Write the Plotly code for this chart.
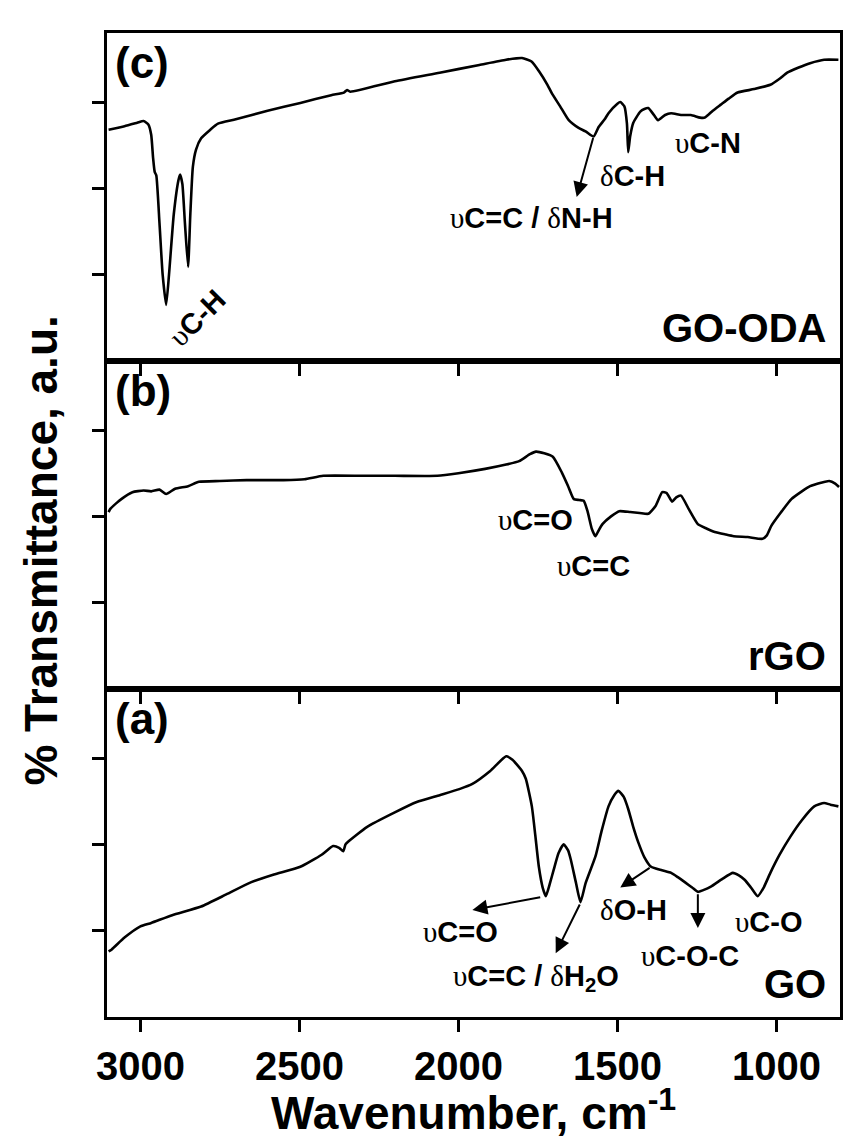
import plotly.graph_objects as go
from plotly.subplots import make_subplots

# ---------------- data ----------------
# (c) GO-ODA
wn_c = [3100, 3050, 3010, 2990, 2975, 2966, 2960, 2955, 2950, 2940, 2930, 2919, 2910, 2895,
        2880, 2875, 2868, 2860, 2850, 2843, 2835, 2825, 2809, 2780, 2756, 2700, 2600, 2497,
        2400, 2360, 2350, 2340, 2200, 2059, 1934, 1850, 1800, 1770, 1747, 1720, 1706, 1680,
        1653, 1622, 1600, 1575, 1559, 1540, 1528, 1500, 1491, 1478, 1470, 1466, 1460, 1450,
        1428, 1415, 1403, 1385, 1372, 1350, 1331, 1300, 1269, 1240, 1225, 1200, 1175, 1150,
        1122, 1070, 1019, 990, 966, 930, 894, 850, 805]
t_c = [2.68, 2.72, 2.76, 2.78, 2.74, 2.62, 2.35, 2.19, 2.15, 1.60, 1.00, 0.65, 1.00, 1.70,
       2.10, 2.16, 2.05, 1.60, 1.09, 1.70, 2.25, 2.45, 2.58, 2.68, 2.75, 2.80, 2.90, 2.99,
       3.08, 3.11, 3.14, 3.12, 3.24, 3.34, 3.43, 3.49, 3.51, 3.47, 3.36, 3.20, 3.10, 2.95,
       2.79, 2.70, 2.66, 2.60, 2.71, 2.80, 2.87, 2.98, 3.00, 2.95, 2.75, 2.42, 2.60, 2.76,
       2.89, 2.92, 2.93, 2.85, 2.79, 2.85, 2.87, 2.85, 2.85, 2.82, 2.82, 2.90, 2.97, 3.04,
       3.11, 3.15, 3.20, 3.27, 3.34, 3.40, 3.45, 3.49, 3.49]

# (b) rGO
wn_b = [3100, 3094, 3060, 3025, 2990, 2966, 2940, 2919, 2891, 2850, 2816, 2750, 2666, 2550,
        2484, 2425, 2300, 2200, 2066, 2000, 1916, 1850, 1809, 1775, 1756, 1730, 1703, 1675,
        1655, 1637, 1620, 1606, 1594, 1580, 1569, 1560, 1547, 1520, 1494, 1460, 1430, 1403,
        1380, 1359, 1345, 1328, 1315, 1300, 1275, 1247, 1220, 1194, 1160, 1134, 1090, 1044,
        1030, 1016, 985, 953, 920, 894, 860, 834, 815, 803]
t_b = [2.05, 2.09, 2.20, 2.28, 2.30, 2.29, 2.31, 2.26, 2.32, 2.35, 2.40, 2.41, 2.42, 2.42,
       2.43, 2.47, 2.47, 2.47, 2.47, 2.50, 2.55, 2.60, 2.64, 2.72, 2.75, 2.73, 2.69, 2.51,
       2.35, 2.20, 2.19, 2.18, 2.06, 1.85, 1.77, 1.83, 1.91, 2.00, 2.06, 2.05, 2.04, 2.03,
       2.12, 2.28, 2.27, 2.17, 2.22, 2.24, 2.08, 1.91, 1.86, 1.82, 1.79, 1.77, 1.76, 1.74,
       1.78, 1.89, 2.05, 2.20, 2.29, 2.35, 2.39, 2.41, 2.38, 2.34]

# (a) GO
wn_a = [3100, 3091, 3050, 3000, 2966, 2900, 2809, 2730, 2653, 2580, 2497, 2430, 2394, 2375,
        2362, 2355, 2347, 2288, 2200, 2131, 2059, 1997, 1956, 1900, 1850, 1830, 1800, 1788,
        1769, 1758, 1747, 1735, 1725, 1712, 1700, 1685, 1669, 1655, 1647, 1630, 1616, 1600,
        1569, 1550, 1528, 1510, 1497, 1480, 1466, 1450, 1434, 1415, 1394, 1360, 1331, 1310,
        1287, 1265, 1247, 1230, 1206, 1170, 1137, 1118, 1100, 1080, 1059, 1040, 1019, 990,
        956, 920, 881, 850, 830, 805]
t_a = [0.76, 0.78, 0.92, 1.05, 1.09, 1.18, 1.28, 1.42, 1.56, 1.65, 1.74, 1.88, 1.98, 1.96,
       1.92, 2.00, 2.03, 2.20, 2.37, 2.49, 2.57, 2.64, 2.70, 2.85, 3.02, 2.98, 2.85, 2.76,
       2.44, 2.10, 1.74, 1.50, 1.40, 1.55, 1.71, 1.90, 2.00, 1.93, 1.83, 1.55, 1.33, 1.55,
       1.86, 2.15, 2.44, 2.57, 2.62, 2.55, 2.41, 2.20, 2.02, 1.85, 1.74, 1.70, 1.67, 1.62,
       1.56, 1.50, 1.45, 1.47, 1.51, 1.60, 1.67, 1.64, 1.59, 1.50, 1.40, 1.50, 1.67, 1.88,
       2.09, 2.28, 2.44, 2.48, 2.46, 2.44]

x_ticks = [3000, 2500, 2000, 1500, 1000]
x_tick_text = ["3000", "2500", "2000", "1500", "1000"]
panel_letters = ["(c)", "(b)", "(a)"]
sample_names = ["GO-ODA", "rGO", "GO"]

# ---------------- figure ----------------
FONT = "Liberation Sans, Arial, sans-serif"
U = "<span style=\"font-family:'Liberation Serif';font-weight:normal\">υ</span>"
D = "<span style=\"font-family:'Liberation Serif';font-weight:normal\">δ</span>"

fig = make_subplots(rows=3, cols=1, shared_xaxes=True, vertical_spacing=0)
for r, (xs, ys) in enumerate([(wn_c, t_c), (wn_b, t_b), (wn_a, t_a)], start=1):
    fig.add_trace(go.Scatter(x=xs, y=ys, mode="lines", showlegend=False,
                             line=dict(color="black", width=2.6, shape="spline", smoothing=0.5)),
                  row=r, col=1)

for r in (1, 2, 3):
    fig.update_xaxes(range=[3105, 800], tickvals=x_ticks, ticktext=x_tick_text,
                     ticks="outside", ticklen=12, tickwidth=3, tickcolor="black",
                     showline=True, linewidth=3, linecolor="black", mirror=True,
                     showgrid=False, zeroline=False,
                     tickfont=dict(family=FONT, size=40, color="black", weight="bold"),
                     row=r, col=1)
    fig.update_yaxes(range=[0, 3.8], tickvals=[1, 2, 3], showticklabels=False,
                     ticks="outside", ticklen=12, tickwidth=3, tickcolor="black",
                     showline=True, linewidth=3, linecolor="black", mirror=True,
                     showgrid=False, zeroline=False, row=r, col=1)

ann = []
small = dict(family=FONT, size=29, color="black", weight="bold")
big = dict(family=FONT, size=40, color="black", weight="bold")

# panel letters and names
for i, (lt, nm) in enumerate(zip(panel_letters, sample_names)):
    xr = "x domain" if i == 0 else f"x{i+1} domain"
    yr = "y domain" if i == 0 else f"y{i+1} domain"
    ann.append(dict(text=lt, xref=xr, yref=yr, x=0.008, y=0.99, xanchor="left", yanchor="top",
                    showarrow=False, font=dict(family=FONT, size=44, color="black", weight="bold")))
    ann.append(dict(text=nm, xref=xr, yref=yr, x=0.984, y=0.1, xanchor="right", yanchor="middle",
                    showarrow=False, font=big))

def label(text, x, y, row, angle=0):
    s = "" if row == 1 else str(row)
    ann.append(dict(text=text, x=x, y=y, xref="x" + s, yref="y" + s, showarrow=False,
                    font=small, textangle=angle, xanchor="center", yanchor="middle"))

def arrow(x0, y0, x1, y1, row):
    s = "" if row == 1 else str(row)
    ann.append(dict(text="", x=x1, y=y1, ax=x0, ay=y0, xref="x" + s, yref="y" + s,
                    axref="x" + s, ayref="y" + s, showarrow=True, arrowhead=2,
                    arrowsize=1.5, arrowwidth=2, arrowcolor="black", standoff=0, startstandoff=0))

# panel (c)
label(U + "C-H", 2822, 0.50, 1, angle=-45)
arrow(1575, 2.60, 1628, 1.90, 1)
label(U + "C=C / " + D + "N-H", 1769, 1.66, 1)
label(D + "C-H", 1453, 2.14, 1)
label(U + "C-N", 1216, 2.53, 1)
# panel (b)
label(U + "C=O", 1756, 1.96, 2)
label(U + "C=C", 1575, 1.43, 2)
# panel (a)
arrow(1738, 1.39, 1956, 1.24, 3)
label(U + "C=O", 1994, 0.99, 3)
arrow(1616, 1.32, 1694, 0.74, 3)
label(U + "C=C / " + D + "H<sub>2</sub>O", 1756, 0.45, 3)
arrow(1394, 1.74, 1491, 1.50, 3)
label(D + "O-H", 1450, 1.24, 3)
arrow(1247, 1.44, 1247, 1.03, 3)
label(U + "C-O-C", 1272, 0.71, 3)
label(U + "C-O", 1022, 1.10, 3)

# axis titles
ann.append(dict(text="% Transmittance, a.u.", xref="paper", yref="paper", x=-0.09, y=0.474,
                xanchor="center", yanchor="middle", textangle=-90, showarrow=False,
                font=dict(family=FONT, size=46, color="black", weight="bold")))
ann.append(dict(text="Wavenumber, cm<sup>-1</sup>", xref="paper", yref="paper", x=0.5, y=-0.095,
                xanchor="center", yanchor="middle", showarrow=False,
                font=dict(family=FONT, size=46, color="black", weight="bold")))

fig.update_layout(width=855, height=1140, margin=dict(l=107, r=12, t=33, b=123),
                  paper_bgcolor="white", plot_bgcolor="white", annotations=ann,
                  showlegend=False)
fig.write_html("out.html")
